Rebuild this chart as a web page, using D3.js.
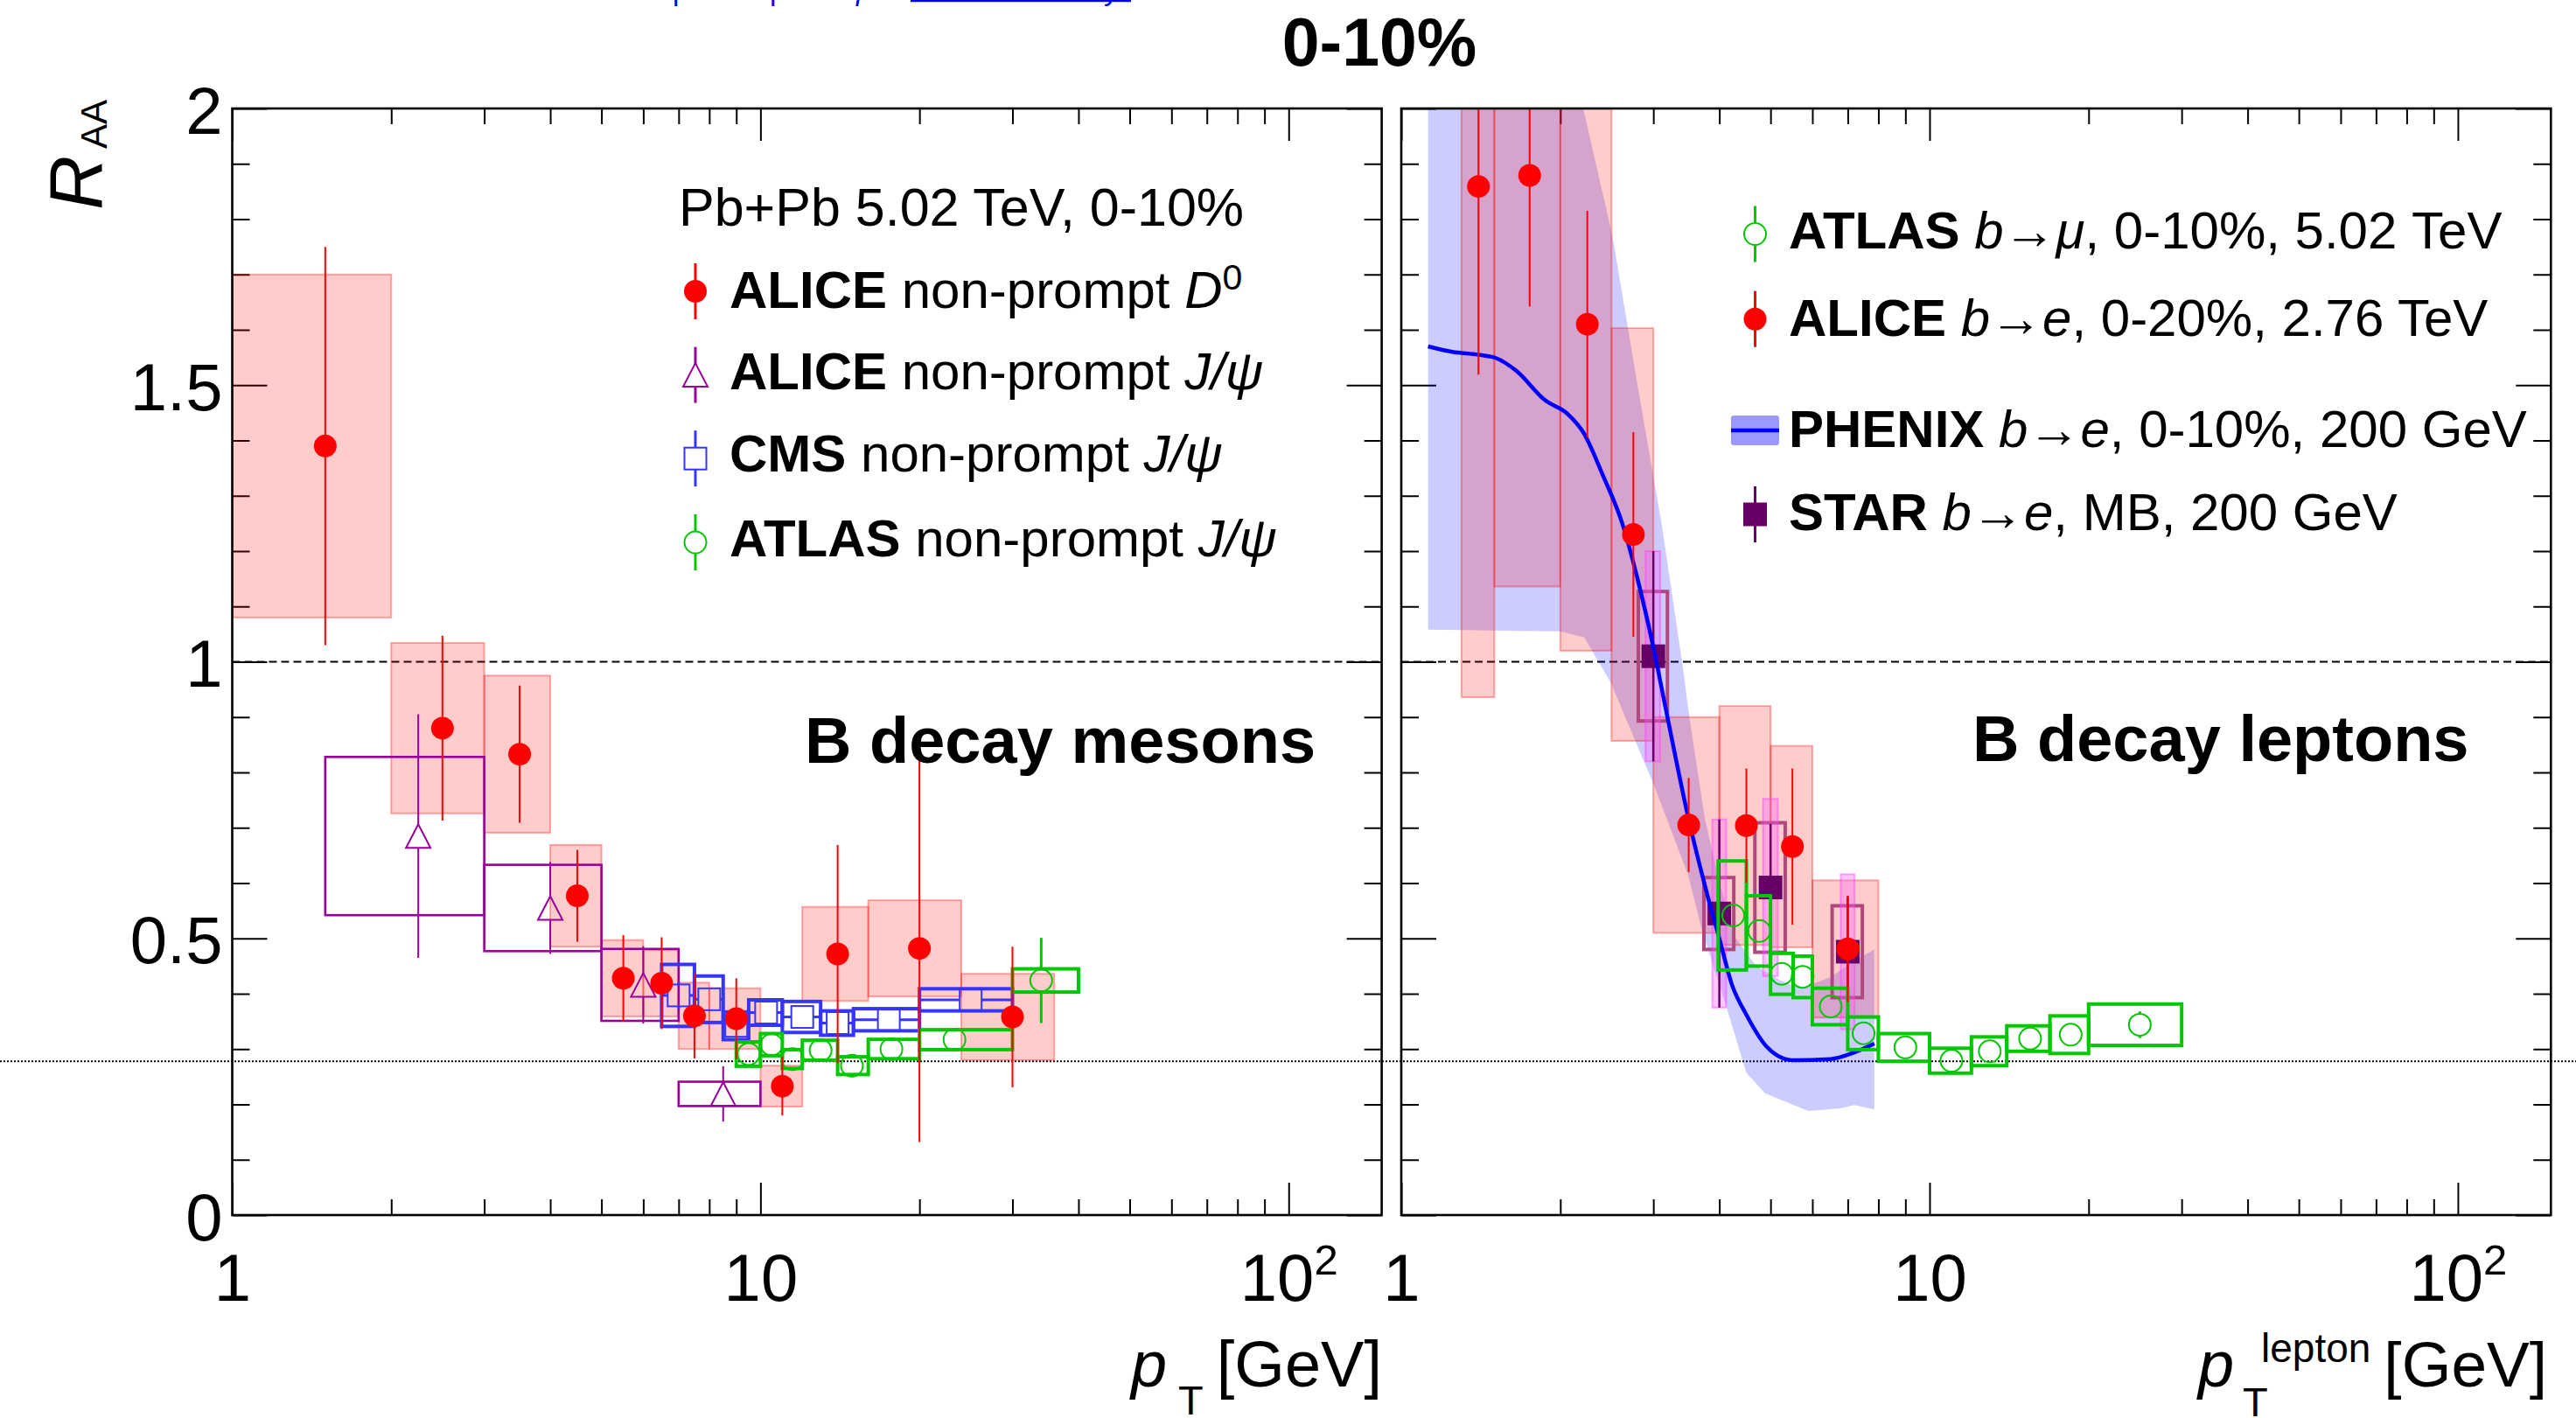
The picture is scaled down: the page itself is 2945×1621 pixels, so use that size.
<!DOCTYPE html>
<html>
<head>
<meta charset="utf-8">
<script src="https://cdn.jsdelivr.net/npm/d3@7"></script>
<style>
  body { margin: 0; background: #fff; }
  svg { display: block; }
  text { font-family: "Liberation Sans", Arial, Helvetica, sans-serif; }
</style>
</head>
<body>
<svg id="chart" width="2945" height="1621"></svg>
<script>
// ---------------- Data ----------------
// Axis ticks
const xMajorTicks = [1, 10, 100];
const xMinorTicks = [2, 3, 4, 5, 6, 7, 8, 9, 20, 30, 40, 50, 60, 70, 80, 90];
const yMajorTicks = [0, 0.5, 1, 1.5, 2];
const yMinorTicks = [0.1, 0.2, 0.3, 0.4, 0.6, 0.7, 0.8, 0.9, 1.1, 1.2, 1.3, 1.4, 1.6, 1.7, 1.8, 1.9];
const refLine = 1;
const dottedLine = 0.278;

// ALICE non-prompt D0, Pb+Pb 5.02 TeV 0-10%
const d0Pt   = [1.5, 2.5, 3.5, 4.5, 5.5, 6.5, 7.5, 9, 11, 14, 20, 30];
const d0PtLo = [1, 2, 3, 4, 5, 6, 7, 8, 10, 12, 16, 24];
const d0PtHi = [2, 3, 4, 5, 6, 7, 8, 10, 12, 16, 24, 36];
const d0Raa  = [1.39, 0.88, 0.833, 0.577, 0.428, 0.419, 0.36, 0.355, 0.233, 0.472, 0.482, 0.358];
const d0Stat = [0.36, 0.167, 0.124, 0.083, 0.078, 0.083, 0.077, 0.073, 0.053, 0.197, 0.35, 0.127];
const d0Syst = [0.31, 0.154, 0.142, 0.092, 0.069, 0.06, 0.06, 0.055, 0.037, 0.085, 0.087, 0.078];

// ALICE non-prompt J/psi
const aJpPt   = [2.25, 4, 6, 8.5];
const aJpPtLo = [1.5, 3, 5, 7];
const aJpPtHi = [3, 5, 7, 10];
const aJpRaa  = [0.685, 0.555, 0.416, 0.219];
const aJpStat = [0.22, 0.083, 0.07, 0.05];
const aJpSyst = [0.143, 0.078, 0.065, 0.022];

// CMS non-prompt J/psi
const cmsPt   = [7, 8, 9, 10.25, 12, 14, 17.5, 25];
const cmsPtLo = [6.5, 7.5, 8.5, 9.5, 11, 13, 15, 20];
const cmsPtHi = [7.5, 8.5, 9.5, 11, 13, 15, 20, 30];
const cmsRaa  = [0.397, 0.39, 0.342, 0.366, 0.358, 0.347, 0.353, 0.389];
const cmsStat = [0.024, 0.02, 0.02, 0.015, 0.015, 0.015, 0.015, 0.02];
const cmsSyst = [0.056, 0.042, 0.025, 0.023, 0.028, 0.022, 0.02, 0.02];

// ATLAS non-prompt J/psi
const atlJpPt   = [9.5, 10.5, 11.5, 13, 14.9, 17.7, 23.3, 34];
const atlJpPtLo = [9, 10, 11, 12, 14, 16, 20, 30];
const atlJpPtHi = [10, 11, 12, 14, 16, 20, 30, 40];
const atlJpRaa  = [0.291, 0.308, 0.282, 0.298, 0.27, 0.30, 0.317, 0.424];
const atlJpStat = [0.018, 0.018, 0.015, 0.016, 0.016, 0.016, 0.016, 0.077];
const atlJpSyst = [0.022, 0.02, 0.017, 0.018, 0.016, 0.0175, 0.018, 0.021];

// ATLAS b -> mu, 0-10%, 5.02 TeV
const muPt   = [4.25, 4.76, 5.25, 5.75, 6.5, 7.5, 9.0, 11.0, 13.0, 15.5, 18.5, 25];
const muPtLo = [3.98, 4.5, 5.0, 5.52, 6.0, 7.0, 8.0, 10, 12, 14, 16.9, 20];
const muPtHi = [4.5, 5.0, 5.52, 6.0, 7.0, 8.0, 10, 12, 14, 16.9, 20, 30];
const muRaa  = [0.5415, 0.5135, 0.436, 0.4305, 0.377, 0.3285, 0.303, 0.279, 0.296, 0.319, 0.326, 0.344];
const muStat = [0.012, 0.012, 0.01, 0.01, 0.01, 0.01, 0.01, 0.012, 0.012, 0.014, 0.02, 0.024];
const muSyst = [0.0985, 0.0635, 0.037, 0.0375, 0.033, 0.0295, 0.025, 0.0225, 0.026, 0.023, 0.034, 0.0374];

// ALICE b -> e, 0-20%, 2.76 TeV
const ePt   = [1.4, 1.75, 2.25, 2.75, 3.5, 4.5, 5.5, 7];
const ePtLo = [1.3, 1.5, 2, 2.5, 3, 4, 5, 6];
const ePtHi = [1.5, 2, 2.5, 3, 4, 5, 6, 8];
const eRaa  = [1.859, 1.879, 1.61, 1.23, 0.705, 0.704, 0.666, 0.481];
const eStat = [0.34, 0.237, 0.205, 0.185, 0.085, 0.103, 0.141, 0.096];
const eSyst = [0.923, 0.743, 0.59, 0.373, 0.195, 0.216, 0.182, 0.124];

// PHENIX b -> e, 0-10%, 200 GeV (central curve and band)
const phxPt  = [1.124, 1.25, 1.4, 1.51, 1.65, 1.87, 2.07, 2.21, 2.41, 2.62, 2.8, 3.0, 3.19, 3.49, 3.81, 4.0, 4.22, 4.5, 4.92, 5.5, 6.5, 7.2, 7.86];
const phxRaa = [1.570, 1.560, 1.555, 1.549, 1.526, 1.473, 1.447, 1.415, 1.336, 1.25, 1.15, 1.026, 0.90, 0.72, 0.573, 0.50, 0.418, 0.362, 0.304, 0.280, 0.282, 0.294, 0.310];
const phxUpPt = [1.124, 2.0, 2.21, 2.51, 2.8, 3.11, 3.4, 3.51, 3.75, 4.0, 4.3, 4.7, 5.2, 5.7, 6.5, 7.2, 7.86];
const phxUp   = [2.5, 2.17, 2.0, 1.77, 1.5, 1.25, 1.0, 0.9, 0.72, 0.6, 0.5, 0.45, 0.425, 0.41, 0.43, 0.46, 0.48];
const phxLoPt = [1.124, 2.0, 2.22, 2.49, 3.0, 3.49, 3.72, 4.12, 4.5, 4.88, 5.9, 6.8, 7.2, 7.86];
const phxLo   = [1.058, 1.055, 1.044, 0.963, 0.78, 0.615, 0.51, 0.378, 0.257, 0.22, 0.188, 0.193, 0.199, 0.191];

// STAR b -> e, MB, 200 GeV
const starPt     = [3.0, 4.0, 5.0, 7.0];
const starBoxLo  = [2.81, 3.74, 4.67, 6.54];
const starBoxHi  = [3.19, 4.26, 5.33, 7.46];
const starNarLo  = [2.90, 3.88, 4.84, 6.79];
const starNarHi  = [3.09, 4.12, 5.16, 7.21];
const starRaa    = [1.01, 0.545, 0.592, 0.476];
const starStat   = [0.19, 0.17, 0.115, 0.1];
const starSyst   = [0.117, 0.065, 0.117, 0.083];
const starSyst2  = [0.19, 0.17, 0.16, 0.14];

// ---------------- Layout ----------------
const svg = d3.select("#chart");
const frameTop = 124, frameBottom = 1389;
const y = d3.scaleLinear().domain([0, 2]).range([frameBottom, frameTop]);
const xLeft = d3.scaleLog().domain([1, 150]).range([265.5, 1579.6]);
const xRight = d3.scaleLog().domain([1, 150]).range([1602, 2916.3]);

const RED = "#ff0000", PURPLE = "#990099", CMSBLUE = "#3535ff", GREEN = "#00c800";
const PINK_FILL = "rgba(255,0,0,0.2)", PINK_EDGE = "rgba(255,0,0,0.32)";
const BAND = "rgba(0,0,255,0.2)";
const STAR = "#660066", STAR_BOX = "#b0487e", STAR_LIGHT = "rgba(255,90,255,0.33)";

// Title
svg.append("text").attr("x", 1577).attr("y", 75).attr("text-anchor", "middle")
  .attr("font-size", 77).attr("font-weight", "bold").text("0-10%");

// Header fragments (blue link text, mostly above the page edge)
const hdr = svg.append("g").attr("fill", "#0000ee")
  .style("font-family", '"Liberation Serif", "Times New Roman", serif').attr("font-size", 33);
hdr.append("text").attr("x", 769).attr("y", 0).text("p");
hdr.append("text").attr("x", 880).attr("y", 0).text("p");
hdr.append("text").attr("x", 979).attr("y", 0).attr("font-style", "italic").text("p");
hdr.append("text").attr("x", 1262).attr("y", 0).text("y");
hdr.append("line").attr("x1", 1041).attr("x2", 1293).attr("y1", 1).attr("y2", 1)
  .attr("stroke", "#0000ee").attr("stroke-width", 2.5);

// Full-width dotted reference line
svg.append("line").attr("x1", 0).attr("x2", 2945)
  .attr("y1", y(dottedLine)).attr("y2", y(dottedLine))
  .attr("stroke", "#000").attr("stroke-width", 2).attr("stroke-dasharray", "2,2");

function panelAxes(x, withLabels, id) {
  const [x0, x1] = x.range();
  const g = svg.append("g").attr("class", "axes");
  const styleTicks = sel => {
    sel.select(".domain").remove();
    sel.selectAll(".tick line").attr("stroke", "#000").attr("stroke-width", 2);
    sel.selectAll("text").attr("font-size", 76).attr("fill", "#000")
      .style("font-family", '"Liberation Sans", Arial, sans-serif');
  };
  // bottom
  const bx = g.append("g").attr("transform", `translate(0,${frameBottom})`)
    .call(d3.axisBottom(x).tickValues(xMajorTicks).tickSizeInner(-37).tickSizeOuter(0)
      .tickPadding(44).tickFormat(d => d === 100 ? "10" : String(d)));
  styleTicks(bx);
  bx.selectAll(".tick").filter(d => d === 100).select("text")
    .append("tspan").attr("font-size", 49).attr("dy", "-0.62em").text("2");
  g.append("g").attr("transform", `translate(0,${frameBottom})`)
    .call(d3.axisBottom(x).tickValues(xMinorTicks).tickSizeInner(-18).tickSizeOuter(0).tickFormat(""))
    .call(styleTicks);
  // top
  g.append("g").attr("transform", `translate(0,${frameTop})`)
    .call(d3.axisTop(x).tickValues(xMajorTicks).tickSizeInner(-37).tickSizeOuter(0).tickFormat(""))
    .call(styleTicks);
  g.append("g").attr("transform", `translate(0,${frameTop})`)
    .call(d3.axisTop(x).tickValues(xMinorTicks).tickSizeInner(-18).tickSizeOuter(0).tickFormat(""))
    .call(styleTicks);
  // left
  const ly = g.append("g").attr("transform", `translate(${x0},0)`)
    .call(d3.axisLeft(y).tickValues(yMajorTicks).tickSizeInner(-40).tickSizeOuter(0)
      .tickPadding(11).tickFormat(withLabels ? (d => String(d)) : ""));
  styleTicks(ly);
  ly.selectAll("text").attr("dy", "0.37em");
  g.append("g").attr("transform", `translate(${x0},0)`)
    .call(d3.axisLeft(y).tickValues(yMinorTicks).tickSizeInner(-20).tickSizeOuter(0).tickFormat(""))
    .call(styleTicks);
  // right
  g.append("g").attr("transform", `translate(${x1},0)`)
    .call(d3.axisRight(y).tickValues(yMajorTicks).tickSizeInner(-40).tickSizeOuter(0).tickFormat(""))
    .call(styleTicks);
  g.append("g").attr("transform", `translate(${x1},0)`)
    .call(d3.axisRight(y).tickValues(yMinorTicks).tickSizeInner(-20).tickSizeOuter(0).tickFormat(""))
    .call(styleTicks);

  // clip region for the data
  svg.append("clipPath").attr("id", id).append("rect")
    .attr("x", x0).attr("y", frameTop).attr("width", x1 - x0).attr("height", frameBottom - frameTop);
  const data = svg.append("g").attr("clip-path", `url(#${id})`);
  // dashed line at unity
  data.append("line").attr("x1", x0).attr("x2", x1).attr("y1", y(refLine)).attr("y2", y(refLine))
    .attr("stroke", "#000").attr("stroke-width", 2).attr("stroke-dasharray", "9,5");
  return { data, frame: () => svg.append("rect").attr("x", x0).attr("y", frameTop)
    .attr("width", x1 - x0).attr("height", frameBottom - frameTop)
    .attr("fill", "none").attr("stroke", "#000").attr("stroke-width", 2.6) };
}

// ---------------- Drawing helpers ----------------
const idx = n => d3.range(n);

function boxes(g, x, lo, hi, raa, err, fill, stroke, sw) {
  g.append("g").selectAll("rect").data(idx(lo.length)).join("rect")
    .attr("x", i => x(lo[i])).attr("width", i => x(hi[i]) - x(lo[i]))
    .attr("y", i => y(raa[i] + err[i]))
    .attr("height", i => y(raa[i] - err[i]) - y(raa[i] + err[i]))
    .attr("fill", fill).attr("stroke", stroke).attr("stroke-width", sw);
}

function errBars(g, x, pt, raa, err, gap, color, sw) {
  const segs = [];
  pt.forEach((p, i) => {
    const cx = x(p), cy = y(raa[i]);
    const top = y(raa[i] + err[i]), bot = y(raa[i] - err[i]);
    if (cy - gap > top) segs.push([cx, top, cy - gap]);
    if (bot > cy + gap) segs.push([cx, cy + gap, bot]);
  });
  g.append("g").selectAll("line").data(segs).join("line")
    .attr("x1", s => s[0]).attr("x2", s => s[0]).attr("y1", s => s[1]).attr("y2", s => s[2])
    .attr("stroke", color).attr("stroke-width", sw);
}

function xBars(g, x, pt, lo, hi, raa, gap, color, sw) {
  const segs = [];
  pt.forEach((p, i) => {
    const cx = x(p), cy = y(raa[i]);
    if (cx - gap > x(lo[i])) segs.push([x(lo[i]), cx - gap, cy]);
    if (x(hi[i]) > cx + gap) segs.push([cx + gap, x(hi[i]), cy]);
  });
  g.append("g").selectAll("line").data(segs).join("line")
    .attr("x1", s => s[0]).attr("x2", s => s[1]).attr("y1", s => s[2]).attr("y2", s => s[2])
    .attr("stroke", color).attr("stroke-width", sw);
}

function circles(g, cxs, cys, r, fill, stroke, sw) {
  g.append("g").selectAll("circle").data(idx(cxs.length)).join("circle")
    .attr("cx", i => cxs[i]).attr("cy", i => cys[i]).attr("r", r)
    .attr("fill", fill).attr("stroke", stroke).attr("stroke-width", sw);
}
function squares(g, cxs, cys, s, fill, stroke, sw) {
  g.append("g").selectAll("rect").data(idx(cxs.length)).join("rect")
    .attr("x", i => cxs[i] - s / 2).attr("y", i => cys[i] - s / 2).attr("width", s).attr("height", s)
    .attr("fill", fill).attr("stroke", stroke).attr("stroke-width", sw);
}
function triangles(g, cxs, cys, w, h, stroke, sw) {
  g.append("g").selectAll("path").data(idx(cxs.length)).join("path")
    .attr("d", i => `M${cxs[i]},${cys[i] - h / 2}L${cxs[i] + w / 2},${cys[i] + h / 2}L${cxs[i] - w / 2},${cys[i] + h / 2}Z`)
    .attr("fill", "none").attr("stroke", stroke).attr("stroke-width", sw);
}

// ---------------- Left panel: B decay mesons ----------------
const left = panelAxes(xLeft, true, "clipL");
const gl = left.data;
boxes(gl, xLeft, d0PtLo, d0PtHi, d0Raa, d0Syst, PINK_FILL, PINK_EDGE, 2);
boxes(gl, xLeft, aJpPtLo, aJpPtHi, aJpRaa, aJpSyst, "none", PURPLE, 2.6);
boxes(gl, xLeft, cmsPtLo, cmsPtHi, cmsRaa, cmsSyst, "none", CMSBLUE, 4);
boxes(gl, xLeft, atlJpPtLo, atlJpPtHi, atlJpRaa, atlJpSyst, "none", GREEN, 4);

errBars(gl, xLeft, aJpPt, aJpRaa, aJpStat, 13.5, PURPLE, 2);
triangles(gl, aJpPt.map(xLeft), aJpRaa.map(y), 28, 27, PURPLE, 2);

xBars(gl, xLeft, cmsPt, cmsPtLo, cmsPtHi, cmsRaa, 13, CMSBLUE, 3);
errBars(gl, xLeft, cmsPt, cmsRaa, cmsStat, 13, CMSBLUE, 3);
squares(gl, cmsPt.map(xLeft), cmsRaa.map(y), 25, "none", CMSBLUE, 2);

errBars(gl, xLeft, atlJpPt, atlJpRaa, atlJpStat, 12.5, GREEN, 3);
circles(gl, atlJpPt.map(xLeft), atlJpRaa.map(y), 12.5, "none", GREEN, 2);

errBars(gl, xLeft, d0Pt, d0Raa, d0Stat, 0, RED, 2);
circles(gl, d0Pt.map(xLeft), d0Raa.map(y), 13, RED, "none", 0);
left.frame();

// ---------------- Right panel: B decay leptons ----------------
const right = panelAxes(xRight, false, "clipR");
const gr = right.data;
// PHENIX band
const bandPts = phxUpPt.map((p, i) => [xRight(p), y(phxUp[i])])
  .concat(phxLoPt.map((p, i) => [xRight(p), y(phxLo[i])]).reverse());
gr.append("path").attr("d", d3.line()(bandPts) + "Z").attr("fill", BAND).attr("stroke", "none");
// ALICE b->e systematic boxes
boxes(gr, xRight, ePtLo, ePtHi, eRaa, eSyst, PINK_FILL, PINK_EDGE, 2);
// STAR
boxes(gr, xRight, starBoxLo, starBoxHi, starRaa, starSyst, "none", STAR_BOX, 4);
boxes(gr, xRight, starNarLo, starNarHi, starRaa, starSyst2, STAR_LIGHT, "rgba(255,60,255,0.45)", 2);
errBars(gr, xRight, starPt, starRaa, starStat, 0, STAR, 2.5);
squares(gr, starPt.map(xRight), starRaa.map(y), 27, STAR, "none", 0);
// PHENIX central curve
gr.append("path")
  .attr("d", d3.line().x(i => xRight(phxPt[i])).y(i => y(phxRaa[i])).curve(d3.curveMonotoneX)(idx(phxPt.length)))
  .attr("fill", "none").attr("stroke", "#0000ff").attr("stroke-width", 4.5);
// ATLAS b->mu
boxes(gr, xRight, muPtLo, muPtHi, muRaa, muSyst, "none", GREEN, 4);
errBars(gr, xRight, muPt, muRaa, muStat, 12.5, GREEN, 3);
circles(gr, muPt.map(xRight), muRaa.map(y), 12.5, "none", GREEN, 2);
// ALICE b->e points
errBars(gr, xRight, ePt, eRaa, eStat, 0, RED, 2);
circles(gr, ePt.map(xRight), eRaa.map(y), 13, RED, "none", 0);
right.frame();

// ---------------- Panel labels ----------------
svg.append("text").attr("x", 920).attr("y", 872).attr("font-size", 74).attr("font-weight", "bold").text("B decay mesons");
svg.append("text").attr("x", 2255).attr("y", 870).attr("font-size", 74).attr("font-weight", "bold").text("B decay leptons");

// ---------------- Axis titles ----------------
const yt = svg.append("text").attr("transform", "translate(116,240) rotate(-90)").attr("font-size", 86);
yt.append("tspan").attr("font-style", "italic").text("R");
yt.append("tspan").attr("font-size", 42).attr("dx", 8).attr("dy", 6).text("AA");

svg.append("text").attr("x", 1293).attr("y", 1585).attr("font-size", 74).attr("font-style", "italic").text("p");
svg.append("text").attr("x", 1347).attr("y", 1617).attr("font-size", 47).text("T");
svg.append("text").attr("x", 1580).attr("y", 1585).attr("font-size", 74).attr("text-anchor", "end").text("[GeV]");

svg.append("text").attr("x", 2513).attr("y", 1585).attr("font-size", 74).attr("font-style", "italic").text("p");
svg.append("text").attr("x", 2564).attr("y", 1619).attr("font-size", 47).text("T");
svg.append("text").attr("x", 2585).attr("y", 1557).attr("font-size", 46).text("lepton");
svg.append("text").attr("x", 2912).attr("y", 1585).attr("font-size", 73).attr("text-anchor", "end").text("[GeV]");

// ---------------- Legends ----------------
const LEG_FS = 60;
function legendText(x, yb, parts) {
  const t = svg.append("text").attr("x", x).attr("y", yb).attr("font-size", LEG_FS);
  parts.forEach(p => {
    const s = t.append("tspan").text(p.t);
    if (p.b) s.attr("font-weight", "bold");
    if (p.i) s.attr("font-style", "italic");
    if (p.fs) s.attr("font-size", p.fs);
    if (p.dy) s.attr("dy", p.dy);
  });
}
function legendBar(g, x, cy, color) {
  g.append("line").attr("x1", x).attr("x2", x).attr("y1", cy - 32).attr("y2", cy + 32)
    .attr("stroke", color).attr("stroke-width", 3);
}

// left legend
svg.append("text").attr("x", 776).attr("y", 258).attr("font-size", 61).text("Pb+Pb 5.02 TeV, 0-10%");
const lgL = svg.append("g");
const lmx = 795, lmy = [333, 428.6, 524.2, 620];
legendBar(lgL, lmx, lmy[0], RED);
lgL.append("circle").attr("cx", lmx).attr("cy", lmy[0]).attr("r", 13).attr("fill", RED);
lgL.append("rect").attr("x", lmx - 14).attr("y", lmy[1] - 14).attr("width", 28).attr("height", 28).attr("fill", "#fff");
legendBar(lgL, lmx, lmy[1], PURPLE);
lgL.append("path").attr("d", `M${lmx},${lmy[1] - 13.5}L${lmx + 14},${lmy[1] + 13.5}L${lmx - 14},${lmy[1] + 13.5}Z`)
  .attr("fill", "#fff").attr("stroke", PURPLE).attr("stroke-width", 2);
legendBar(lgL, lmx, lmy[2], CMSBLUE);
lgL.append("rect").attr("x", lmx - 12.5).attr("y", lmy[2] - 12.5).attr("width", 25).attr("height", 25)
  .attr("fill", "#fff").attr("stroke", CMSBLUE).attr("stroke-width", 2);
legendBar(lgL, lmx, lmy[3], GREEN);
lgL.append("circle").attr("cx", lmx).attr("cy", lmy[3]).attr("r", 12.5).attr("fill", "#fff")
  .attr("stroke", GREEN).attr("stroke-width", 2);
const ltx = 834, lty = [352, 445, 539, 636];
legendText(ltx, lty[0], [{ t: "ALICE", b: 1 }, { t: " non-prompt " }, { t: "D", i: 1 }, { t: "0", fs: 41, dy: -21 }]);
legendText(ltx, lty[1], [{ t: "ALICE", b: 1 }, { t: " non-prompt " }, { t: "J/ψ", i: 1 }]);
legendText(ltx, lty[2], [{ t: "CMS", b: 1 }, { t: " non-prompt " }, { t: "J/ψ", i: 1 }]);
legendText(ltx, lty[3], [{ t: "ATLAS", b: 1 }, { t: " non-prompt " }, { t: "J/ψ", i: 1 }]);

// right legend
const lgR = svg.append("g");
const rmx = 2006.5, rmy = [267.5, 364.7, 492, 588];
legendBar(lgR, rmx, rmy[0], GREEN);
lgR.append("circle").attr("cx", rmx).attr("cy", rmy[0]).attr("r", 12.5).attr("fill", "#fff")
  .attr("stroke", GREEN).attr("stroke-width", 2);
legendBar(lgR, rmx, rmy[1], RED);
lgR.append("circle").attr("cx", rmx).attr("cy", rmy[1]).attr("r", 13).attr("fill", RED);
lgR.append("rect").attr("x", 1979).attr("y", rmy[2] - 17).attr("width", 55).attr("height", 34)
  .attr("rx", 3).attr("fill", "#9999ff");
lgR.append("line").attr("x1", 1979).attr("x2", 2034).attr("y1", rmy[2]).attr("y2", rmy[2])
  .attr("stroke", "#0000ff").attr("stroke-width", 4.5);
legendBar(lgR, rmx, rmy[3], STAR);
lgR.append("rect").attr("x", rmx - 13.5).attr("y", rmy[3] - 13.5).attr("width", 27).attr("height", 27).attr("fill", STAR);
const rtx = 2045, rty = [284, 384, 511, 606];
legendText(rtx, rty[0], [{ t: "ATLAS", b: 1 }, { t: " " }, { t: "b", i: 1 }, { t: "→" }, { t: "μ", i: 1 }, { t: ", 0-10%, 5.02 TeV" }]);
legendText(rtx, rty[1], [{ t: "ALICE", b: 1 }, { t: " " }, { t: "b", i: 1 }, { t: "→" }, { t: "e", i: 1 }, { t: ", 0-20%, 2.76 TeV" }]);
legendText(rtx, rty[2], [{ t: "PHENIX", b: 1 }, { t: " " }, { t: "b", i: 1 }, { t: "→" }, { t: "e", i: 1 }, { t: ", 0-10%, 200 GeV" }]);
legendText(rtx, rty[3], [{ t: "STAR", b: 1 }, { t: " " }, { t: "b", i: 1 }, { t: "→" }, { t: "e", i: 1 }, { t: ", MB, 200 GeV" }]);
</script>
</body>
</html>
